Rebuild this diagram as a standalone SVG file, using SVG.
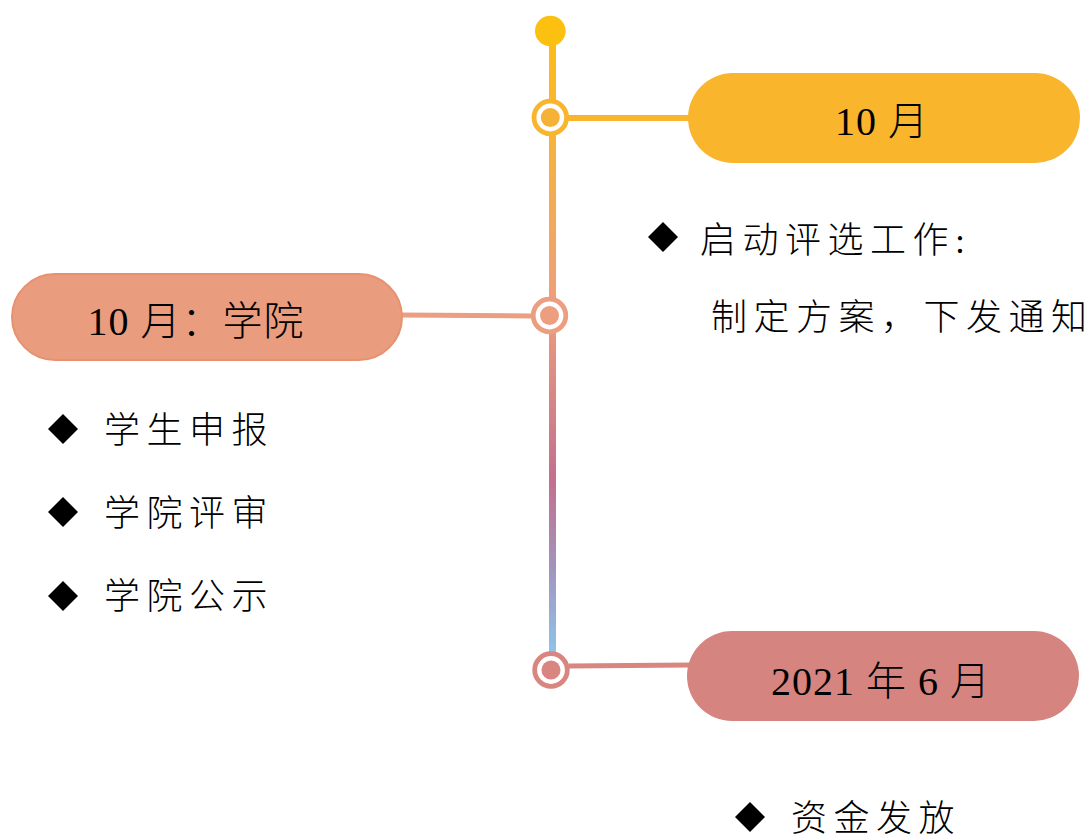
<svg xmlns="http://www.w3.org/2000/svg" width="1092" height="837" viewBox="0 0 1092 837">
  <defs>
    <linearGradient id="vgrad" x1="0" y1="31" x2="0" y2="655" gradientUnits="userSpaceOnUse">
      <stop offset="0" stop-color="#FCBD14"/>
      <stop offset="0.14" stop-color="#F9B436"/>
      <stop offset="0.44" stop-color="#ED9F7C"/>
      <stop offset="0.72" stop-color="#C46F8E"/>
      <stop offset="0.86" stop-color="#A294BE"/>
      <stop offset="1" stop-color="#8EC5EA"/>
    </linearGradient>
    <path id="diamond" d="M0,-15 L15,0 L0,15 L-15,0 Z"/>
  </defs>
  <style>
    .pilltext { font-family: "Liberation Serif", "Noto Sans CJK SC", serif; font-size: 40px; font-weight: 300; fill: #000; text-anchor: middle; letter-spacing: 1px; }
    .item { font-family: "Liberation Serif", "Noto Sans CJK SC", serif; font-size: 36px; font-weight: 300; fill: #000; letter-spacing: 6.5px; }
    .bullet { fill: #000; }
  </style>

  <g id="connectors">
    <line x1="552.5" y1="31" x2="552.5" y2="652" stroke="url(#vgrad)" stroke-width="7"/>
    <line x1="568" y1="118" x2="690" y2="118" stroke="#F9B52C" stroke-width="6"/>
    <line x1="400" y1="315" x2="532" y2="316" stroke="#EC9E80" stroke-width="5"/>
    <line x1="569" y1="666" x2="690" y2="665" stroke="#D98580" stroke-width="5"/>
  </g>

  <g id="start-dot">
    <circle cx="550.3" cy="31" r="15.3" fill="#FCC010"/>
  </g>

  <g id="ring-1">
    <circle cx="550.3" cy="117.5" r="16.3" fill="#fff" stroke="#F9B52C" stroke-width="4.8"/>
    <circle cx="550.3" cy="117.5" r="9.5" fill="#F6B137"/>
  </g>
  <g id="ring-2">
    <circle cx="549.5" cy="315.5" r="16.3" fill="#fff" stroke="#EC9E80" stroke-width="4.8"/>
    <circle cx="549.5" cy="315.5" r="9.5" fill="#EC9E7E"/>
  </g>
  <g id="ring-3">
    <circle cx="551" cy="670" r="16.3" fill="#fff" stroke="#D98580" stroke-width="4.8"/>
    <circle cx="551" cy="670" r="9.5" fill="#D98580"/>
  </g>

  <g id="node-oct">
    <rect x="688" y="73" width="392" height="90" rx="45" ry="45" fill="#F9B52C"/>
    <text class="pilltext" x="882" y="135">10 月</text>
  </g>

  <g id="node-oct-college">
    <rect x="12" y="274" width="390" height="86" rx="43" ry="43" fill="#E99C7E" stroke="#E8916F" stroke-width="2"/>
    <text class="pilltext" x="196" y="335">10 月：学院</text>
  </g>

  <g id="node-2021">
    <rect x="687" y="631" width="392" height="90" rx="45" ry="45" fill="#D68480"/>
    <text class="pilltext" x="881" y="695">2021 年 6 月</text>
  </g>

  <g id="text-oct">
    <use href="#diamond" class="bullet" x="663" y="237"/>
    <text class="item" x="700" y="253">启动评选工作:</text>
    <text class="item" x="711" y="330">制定方案，下发通知</text>
  </g>

  <g id="text-college">
    <use href="#diamond" class="bullet" x="63" y="429"/>
    <text class="item" x="104" y="443">学生申报</text>
    <use href="#diamond" class="bullet" x="63" y="512"/>
    <text class="item" x="104" y="526">学院评审</text>
    <use href="#diamond" class="bullet" x="63" y="596"/>
    <text class="item" x="104" y="609">学院公示</text>
  </g>

  <g id="text-2021">
    <use href="#diamond" class="bullet" x="750" y="817"/>
    <text class="item" x="791" y="831">资金发放</text>
  </g>
</svg>
